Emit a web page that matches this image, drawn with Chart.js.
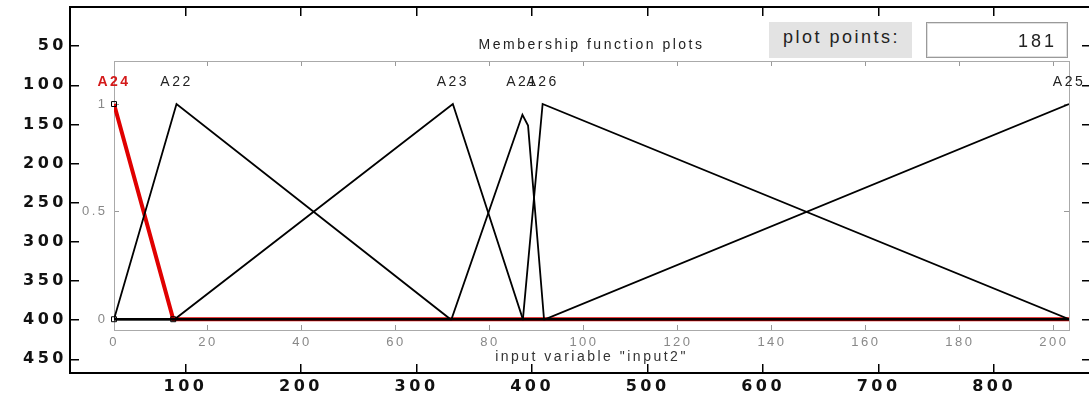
<!DOCTYPE html>
<html lang="en">
<head>
    <meta charset="UTF-8">
    <title>Membership function plots</title>
    <script src="https://cdn.jsdelivr.net/npm/chart.js"></script>
    <style>
        body {
            margin: 0;
            background: #fff;
            width: 1089px;
            height: 398px;
            overflow: hidden;
            position: relative;
            font-family: Arial, "Liberation Sans", sans-serif;
        }
        #frameChart, #mfChart {
            position: absolute;
            left: 0;
            top: 0;
        }
        #ppLabel {
            position: absolute;
            left: 769px;
            top: 22px;
            width: 129px;
            height: 36px;
            padding-left: 14px;
            background: #e3e3e3;
            color: #222;
            font-size: 18px;
            line-height: 30px;
            letter-spacing: 2.5px;
        }
        #ppBox {
            position: absolute;
            left: 926px;
            top: 22px;
            width: 130px;
            height: 34px;
            padding-right: 10px;
            border: 1px solid #9a9a9a;
            box-shadow: inset 0 0 0 1px #e0e0e0;
            color: #222;
            font-size: 18px;
            line-height: 36px;
            text-align: right;
            letter-spacing: 3px;
        }
    </style>
</head>
<body>
    <canvas id="frameChart" width="1095" height="398"></canvas>
    <canvas id="mfChart" width="1089" height="398"></canvas>
    <div id="ppLabel">plot points:</div>
    <div id="ppBox">181</div>

    <script>
        // outer pixel frame around the screenshot
        const frameXTicks = [100, 200, 300, 400, 500, 600, 700, 800];
        const frameYTicks = [50, 100, 150, 200, 250, 300, 350, 400, 450];

        // membership functions of "input2"
        const inputXTicks = [0, 20, 40, 60, 80, 100, 120, 140, 160, 180, 200];
        const inputYTicks = [0, 0.5, 1];
        const inputYLabels = ['0', '0.5', '1'];
        const mfNames = ['A24', 'A22', 'A23', 'A21', 'A26', 'A25'];
        const labelX = [0, 13.3, 72.1, 86.9, 91.2, 203.2];
        const labelY = 1.1;

        const a24X = [0, 12.6, 203.2];
        const a24Y = [1, 0, 0];
        const a22X = [0, 13.3, 71.6, 203.2];
        const a22Y = [0, 1, 0, 0];
        const a23X = [0, 12.9, 72.1, 87.0, 203.2];
        const a23Y = [0, 0, 1, 0, 0];
        const a21X = [0, 71.8, 86.9, 88.1, 91.5, 203.2];
        const a21Y = [0, 0, 0.95, 0.9, 0, 0];
        const a26X = [0, 87.0, 91.2, 203.2];
        const a26Y = [0, 0, 1, 0];
        const a25X = [0, 91.7, 203.2];
        const a25Y = [0, 0, 1];
        const handleX = [0, 0, 12.6];
        const handleY = [1, 0, 0];

        const pts = (xs, ys) => xs.map((x, i) => ({ x: x, y: ys[i] }));

        // wide lettering like the stretched screenshot
        const spacing = px => ({
            id: 'spacing',
            beforeDraw(chart) { chart.ctx.letterSpacing = px; }
        });

        // fix the box of every axis so the plot area lands where it should
        function fixSize(size) {
            return s => {
                if (s.isHorizontal()) s.height = size; else s.width = size;
                s.paddingTop = s.paddingBottom = s.paddingLeft = s.paddingRight = 0;
            };
        }
        function setTicks(list) {
            return s => { s.ticks = list.map(v => ({ value: v })); };
        }

        // ---------- outer frame ----------
        const frameFont = { family: 'DejaVu Sans', size: 16, weight: 'bold' };
        function frameAxis(pos, min, max, list, size, labels, padding) {
            return {
                type: 'linear',
                position: pos,
                min: min,
                max: max,
                reverse: pos === 'left' || pos === 'right',
                afterBuildTicks: setTicks(list),
                afterFit: fixSize(size),
                grid: { drawOnChartArea: false, tickLength: -9, color: '#000', lineWidth: 1.5 },
                border: { color: '#000', width: 2 },
                ticks: { display: labels, color: '#111', font: frameFont, padding: padding }
            };
        }

        new Chart(document.getElementById('frameChart'), {
            type: 'line',
            data: { datasets: [] },
            options: {
                responsive: false,
                animation: false,
                layout: { padding: { top: 7 } },
                plugins: { legend: { display: false }, tooltip: { enabled: false } },
                scales: {
                    x: frameAxis('bottom', 0, 883.8, frameXTicks, 25, true, 13),
                    x2: frameAxis('top', 0, 883.8, frameXTicks, 0, false, 0),
                    y: frameAxis('left', 0, 467.5, frameYTicks, 70, true, 12),
                    y2: frameAxis('right', 0, 467.5, frameYTicks, 4, false, 0)
                }
            },
            plugins: [spacing('3.5px')]
        });

        // ---------- membership function plot ----------
        const mfLabels = {
            id: 'mfLabels',
            afterDatasetsDraw(chart) {
                const ctx = chart.ctx;
                const xs = chart.scales.x;
                const ys = chart.scales.y;
                ctx.save();
                ctx.letterSpacing = '2.5px';
                ctx.textAlign = 'center';
                ctx.textBaseline = 'middle';
                mfNames.forEach((name, i) => {
                    ctx.fillStyle = name === 'A24' ? '#d41a1a' : '#222';
                    ctx.font = (name === 'A24' ? 'bold ' : '') + '14px Arial, "Liberation Sans"';
                    ctx.fillText(name, xs.getPixelForValue(labelX[i]), ys.getPixelForValue(labelY));
                });
                ctx.restore();
            }
        };

        const tickFont = { family: 'Arial, "Liberation Sans"', size: 13 };
        const titleFont = { family: 'Arial, "Liberation Sans"', size: 14 };
        function mfAxis(pos, min, max, list, size, labels, padding) {
            return {
                type: 'linear',
                position: pos,
                min: min,
                max: max,
                afterBuildTicks: setTicks(list),
                afterFit: fixSize(size),
                grid: { drawOnChartArea: false, tickLength: -5, color: '#999', lineWidth: 1 },
                border: { color: '#aaa', width: 1 },
                ticks: { display: labels, color: '#888', font: tickFont, padding: padding }
            };
        }

        const xBottom = mfAxis('bottom', 0, 203.2, inputXTicks, 68, true, 10);
        xBottom.title = { display: true, text: 'input variable "input2"', color: '#333', font: titleFont, padding: { top: 0, bottom: 32.6 } };
        const xTop = mfAxis('top', 0, 203.2, inputXTicks, 61, false, 0);
        xTop.title = { display: true, text: 'Membership function plots', color: '#222', font: titleFont, padding: { top: 36.6, bottom: 0 } };
        const yLeft = mfAxis('left', -0.05, 1.2, inputYTicks, 114, true, 11.5);
        yLeft.ticks.callback = (v, i) => inputYLabels[i];

        const black = { borderColor: '#000', borderWidth: 1.8, pointRadius: 0, fill: false, tension: 0 };

        new Chart(document.getElementById('mfChart'), {
            type: 'line',
            data: {
                datasets: [
                    { label: 'handles', data: pts(handleX, handleY), showLine: false, pointStyle: 'rect',
                      pointRadius: 3.5, borderColor: '#000', borderWidth: 1, backgroundColor: 'rgba(0,0,0,0)', clip: false, order: 0 },
                    Object.assign({ label: 'A22', data: pts(a22X, a22Y), order: 1 }, black),
                    Object.assign({ label: 'A23', data: pts(a23X, a23Y), order: 1 }, black),
                    Object.assign({ label: 'A21', data: pts(a21X, a21Y), order: 1 }, black),
                    Object.assign({ label: 'A26', data: pts(a26X, a26Y), order: 1 }, black),
                    Object.assign({ label: 'A25', data: pts(a25X, a25Y), order: 1 }, black),
                    { label: 'A24', data: pts(a24X, a24Y), borderColor: '#e00000', borderWidth: 4,
                      pointRadius: 0, fill: false, order: 2 }
                ]
            },
            options: {
                responsive: false,
                animation: false,
                layout: { padding: 0 },
                plugins: { legend: { display: false }, tooltip: { enabled: false } },
                scales: {
                    x: xBottom,
                    x2: xTop,
                    y: yLeft,
                    y2: mfAxis('right', -0.05, 1.2, inputYTicks, 20, false, 0)
                }
            },
            plugins: [spacing('2.5px'), mfLabels]
        });
    </script>
</body>
</html>
